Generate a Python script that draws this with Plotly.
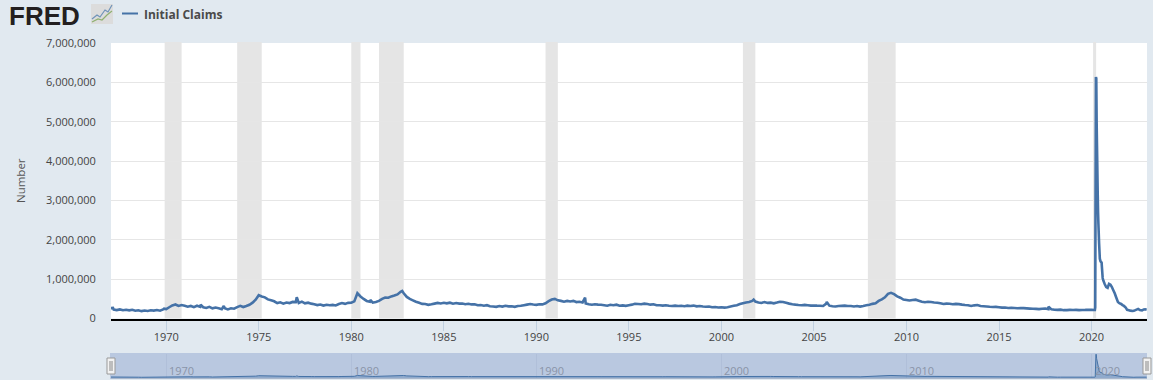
import pandas as pd
import plotly.graph_objects as go

W, H = 1153, 380
BG = "#e1e9f0"
BLUE = "#4572a7"
FONT = "Open Sans"

# Two-monthly readings 1967-2019 (thousands)
m_values = [
    262,228,214,231,209,222, 208,221,196,209,187,203, 192,208,201,214,198,232,
    238,286,331,356,318,342, 322,298,318,289,324,296, 286,268,297,258,279,262,
    238,259,232,261,248,288, 322,291,316,348,402,478, 592,561,538,486,462,438,
    391,412,378,406,392,421, 418,395,428,386,402,378, 362,341,356,328,348,336,
    346,332,368,391,372,398, 402,436,642,561,498,446, 428,402,418,446,498,532,
    528,562,584,612,678,642, 548,498,462,426,398,372, 368,348,362,378,396,382,
    398,384,402,376,392,378, 382,364,376,358,362,338, 342,326,338,312,306,296,
    318,302,322,308,312,296, 316,322,338,352,368,356, 346,362,358,388,442,482,
    498,462,448,428,446,432, 448,418,426,408,384,362, 348,362,352,348,338,326,
    348,338,352,326,334,322, 338,352,372,368,362,378, 368,352,362,338,336,328,
    338,322,316,326,318,322, 312,326,318,328,308,318, 304,298,306,286,292,278,
    284,276,288,306,322,338, 366,388,408,418,446,432, 408,396,418,396,402,386,
    404,426,418,398,378,362, 352,344,338,346,338,328, 332,326,324,318,378,326,
    312,306,318,322,326,318, 316,306,318,302,318,336, 352,372,388,446,488,538,
    628,652,618,562,528,482, 472,456,468,478,452,428, 412,426,418,408,402,388,
    368,378,376,362,372,366, 352,342,336,318,334,342, 318,312,306,298,292,296,
    288,276,278,268,272,268, 262,268,264,258,252,248, 244,238,246,252,238,232,
    222,218,224,212,214,218, 216,218,212,216,218,224,
]
# Isolated spikes visible in the series
spike_dates = ["1967-02-15", "1969-11-20", "1970-06-15", "1971-11-10", "1973-02-10",
               "1977-01-20", "1981-01-10", "1982-10-02", "1992-08-20", "2001-09-29",
               "2005-09-10", "2017-09-05"]
spike_values = [270, 250, 350, 350, 320, 540, 470, 700, 530, 480, 420, 300]
# Weekly readings from 2020 onward (thousands)
w_dates = ["2020-01-04","2020-02-15","2020-03-07","2020-03-14","2020-03-21","2020-03-28",
           "2020-04-04","2020-04-11","2020-04-18","2020-04-25","2020-05-02","2020-05-09",
           "2020-05-16","2020-05-30","2020-06-13","2020-06-27","2020-07-18","2020-08-08",
           "2020-08-22","2020-09-19","2020-10-17","2020-11-14","2020-12-12","2021-01-09",
           "2021-02-06","2021-03-06","2021-04-03","2021-05-01","2021-06-05","2021-07-03",
           "2021-08-07","2021-09-04","2021-10-02","2021-11-06","2021-12-04","2022-01-08",
           "2022-02-05","2022-03-19","2022-04-16","2022-05-28","2022-07-09","2022-08-13",
           "2022-09-24","2022-10-29","2022-11-26","2022-12-24"]
w_values = [220,215,215,282,3300,6137,6100,5000,4400,3800,3200,2700,2400,1900,1520,1450,1420,
            1030,960,870,800,780,880,860,800,720,640,540,420,390,370,340,320,280,220,210,
            200,190,195,220,245,215,205,230,235,225]
rec_start = ["1969-12-01","1973-11-01","1980-01-01","1981-07-01","1990-07-01","2001-03-01","2007-12-01","2020-02-01"]
rec_end = ["1970-11-01","1975-03-01","1980-07-01","1982-11-01","1991-03-01","2001-11-01","2009-06-01","2020-04-01"]
nav_labels = ["1970","1980","1990","2000","2010","2020"]
y_ticks = [0,1000000,2000000,3000000,4000000,5000000,6000000,7000000]
y_labels = ["0","1,000,000","2,000,000","3,000,000","4,000,000","5,000,000","6,000,000","7,000,000"]

m_dates = pd.date_range("1967-01-01", periods=len(m_values), freq="2MS")
s = pd.concat([
    pd.Series(m_values, index=m_dates),
    pd.Series(spike_values, index=pd.to_datetime(spike_dates)),
    pd.Series(w_values, index=pd.to_datetime(w_dates)),
]).sort_index() * 1000

px = lambda x: x / W
py = lambda y: 1 - y / H
Y0, Y7 = 318.5, 43
X0, X1 = "1967-01-07", "2022-12-31"

fig = go.Figure()
fig.add_trace(go.Scatter(x=s.index, y=s.values, mode="lines", name="Initial Claims",
                         line=dict(color=BLUE, width=2.6, simplify=False), xaxis="x", yaxis="y",
                         showlegend=False, hoverinfo="x+y"))
fig.add_trace(go.Scatter(x=s.index, y=s.values, mode="lines", fill="tozeroy",
                         fillcolor="rgba(69,114,167,0.35)", line=dict(color=BLUE, width=1),
                         xaxis="x2", yaxis="y2", showlegend=False, hoverinfo="skip"))

shapes = []
for a, b in zip(rec_start, rec_end):
    shapes.append(dict(type="rect", xref="x", yref="y domain", x0=a, x1=b, y0=0, y1=1.004,
                       fillcolor="#e5e5e5", line_width=0, layer="below"))
# navigator band and handles
shapes.append(dict(type="rect", xref="paper", yref="paper", x0=px(110), x1=px(1147), y0=py(379), y1=py(353),
                   fillcolor="#b9c8e0", line_width=0, layer="below"))
for cx in (111, 1147):
    shapes.append(dict(type="rect", xref="paper", yref="paper", x0=px(cx-4), x1=px(cx+4), y0=py(374), y1=py(358),
                       fillcolor="#f2f2f2", line=dict(color="#999999", width=1)))
    for d in (-1, 1):
        shapes.append(dict(type="line", xref="paper", yref="paper", x0=px(cx+d), x1=px(cx+d), y0=py(371), y1=py(361),
                           line=dict(color="#888888", width=1)))
# legend sample line
shapes.append(dict(type="line", xref="paper", yref="paper", x0=px(122), x1=px(138), y0=py(13.5), y1=py(13.5),
                   line=dict(color=BLUE, width=2)))
# logo icon
shapes.append(dict(type="rect", xref="paper", yref="paper", x0=px(91), x1=px(113), y0=py(24), y1=py(4),
                   fillcolor="#dcdcdc", line_width=0))
shapes.append(dict(type="path", xref="paper", yref="paper",
                   path=f"M {px(92)} {py(19)} L {px(97)} {py(15)} L {px(100)} {py(17)} L {px(105)} {py(10)} L {px(108)} {py(12)} L {px(112)} {py(5)}",
                   line=dict(color="#6f93b8", width=1.2)))
shapes.append(dict(type="path", xref="paper", yref="paper",
                   path=f"M {px(92)} {py(22)} L {px(98)} {py(19)} L {px(102)} {py(20)} L {px(107)} {py(15)} L {px(112)} {py(11)}",
                   line=dict(color="#8fb070", width=1.2)))

ann = [
    dict(xref="paper", yref="paper", x=px(7), y=py(16), text="<b>FRED</b>", showarrow=False, xanchor="left",
         yanchor="middle", font=dict(family="Liberation Sans", size=26, color="#231f20")),
    dict(xref="paper", yref="paper", x=px(141.5), y=py(14), text="<b>Initial Claims</b>", showarrow=False,
         xanchor="left", yanchor="middle", font=dict(family=FONT, size=12, color="#4a4a4a")),
    dict(xref="paper", yref="paper", x=px(21), y=py(180), text="Number", showarrow=False, textangle=-90,
         xanchor="center", yanchor="middle", font=dict(family=FONT, size=11.5, color="#555555")),
]
for t in nav_labels:
    ann.append(dict(xref="x2", yref="paper", x=f"{t}-01-01", y=py(370), text=t, showarrow=False, xanchor="left",
                    yanchor="middle", xshift=1, font=dict(family=FONT, size=11, color="#8a94a8")))

fig.update_layout(
    width=W, height=H, margin=dict(l=0, r=0, t=0, b=0), autosize=False,
    paper_bgcolor=BG, plot_bgcolor="white", showlegend=False,
    font=dict(family=FONT, size=11, color="#444444"),
    shapes=shapes, annotations=ann,
    xaxis=dict(domain=[px(111), px(1147)], range=[X0, X1], anchor="y", type="date", tick0="1970-01-01", dtick="M60",
               tickformat="%Y", ticks="outside", ticklen=10, tickcolor="#c0d0e0", tickwidth=1, automargin=False,
               ticklabelstandoff=-3, showgrid=False, showline=True, linecolor="#000000", linewidth=2,
               tickfont=dict(family=FONT, size=11, color="#444444")),
    yaxis=dict(domain=[py(Y0), py(Y7)], range=[0, 7000000], anchor="x", tickvals=y_ticks, ticktext=y_labels,
               ticks="outside", ticklen=12, tickcolor="rgba(0,0,0,0)", gridcolor="#e6e6e6", gridwidth=1,
               zeroline=False, showline=False, automargin=False,
               tickfont=dict(family=FONT, size=11, color="#444444")),
    xaxis2=dict(domain=[px(111), px(1147)], range=[X0, X1], anchor="y2", type="date", tick0="1970-01-01", dtick="M120",
                showticklabels=False, ticks="", showgrid=True, gridcolor="rgba(150,165,195,0.25)", gridwidth=1,
                showline=True, linecolor="#a9b7cc", linewidth=1, automargin=False),
    yaxis2=dict(domain=[py(378), py(354)], range=[0, 6200000], anchor="x2", showticklabels=False, ticks="",
                showgrid=False, zeroline=False, showline=False, automargin=False),
)
fig.write_html("out.html", config={"displayModeBar": False},
               post_script="document.body.style.margin='0';document.documentElement.style.overflow='hidden';")
